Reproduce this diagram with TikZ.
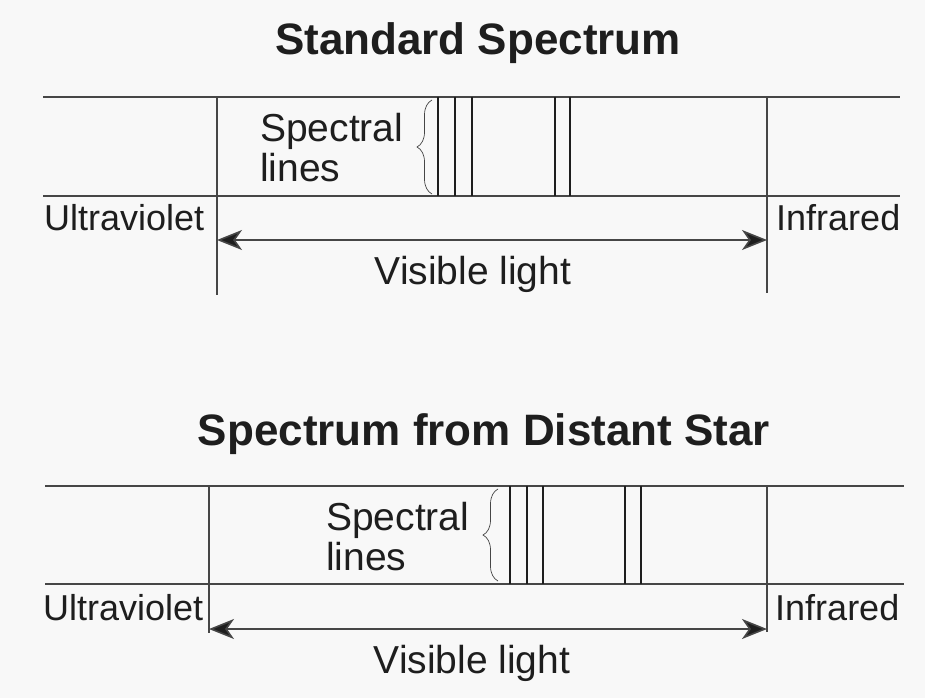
\documentclass[tikz,border=0pt]{standalone}
\usepackage{fontspec}
\setmainfont{Liberation Sans}
\usetikzlibrary{arrows.meta, decorations.pathreplacing, positioning}
\definecolor{bgcolor}{RGB}{248,248,248}
\definecolor{linecolor}{RGB}{70,70,70}
\definecolor{textcolor}{RGB}{30,30,30}

\tikzset{
  band/.style={linecolor, line width=1.3pt},
  specline/.style={textcolor, line width=2.6pt},
  bracket/.style={linecolor, line width=0.7pt, decorate, decoration={brace, amplitude=15pt, aspect=0.5}},
  widtharrow/.style={linecolor, line width=1.6pt, {Stealth[length=25pt,width=20pt,inset=7pt,fill=textcolor]}-{Stealth[length=25pt,width=20pt,inset=7pt,fill=textcolor]}},
  heading/.style={font=\fontsize{44}{48}\selectfont\bfseries, text=textcolor, inner sep=0pt, anchor=base},
  label/.style={font=\fontsize{36}{40}\selectfont, text=textcolor, inner sep=0pt},
  biglabel/.style={font=\fontsize{39}{40}\selectfont, text=textcolor, inner sep=0pt}
}

\begin{document}
\begin{tikzpicture}[x=1pt, y=-1pt, line cap=butt]
        \fill[bgcolor] (0,0) rectangle (925,698);
        \useasboundingbox (0,0) rectangle (925,698);

        % standard spectrum
        \node[heading] (title1) at (478,55) {Standard Spectrum};
        \coordinate (tl1) at (43,97);  \coordinate (tr1) at (900,97);
        \coordinate (bl1) at (43,196); \coordinate (br1) at (900,196);
        \coordinate (vt1) at (217,97); \coordinate (vb1) at (217,295);
        \coordinate (wt1) at (767,97); \coordinate (wb1) at (767,293);
        \coordinate (al1) at (217,240); \coordinate (ar1) at (767,240);
        \draw[band] (tl1) -- (tr1);
        \draw[band] (bl1) -- (br1);
        \draw[band] (vt1) -- (vb1);
        \draw[band] (wt1) -- (wb1);
        \foreach \x in {438,455,472,555,570}
            \draw[specline] (\x,97) -- (\x,196);
        \coordinate (bb1) at (432,194); \coordinate (bt1) at (432,100);
        \draw[bracket] (bb1) -- (bt1);
        \node[biglabel, anchor=north west, align=left] (spec1) at (260,113) {Spectral\\lines};
        \node[label, anchor=base west] (uv1) at (44,230) {Ultraviolet};
        \node[label, anchor=base west] (ir1) at (776,230) {Infrared};
        \draw[widtharrow] (al1) -- (ar1);
        \node[biglabel, anchor=base] (vis1) at (473,284) {Visible light};

        % spectrum from distant star
        \node[heading] (title2) at (484,445) {Spectrum from Distant Star};
        \coordinate (tl2) at (45,486);  \coordinate (tr2) at (904,486);
        \coordinate (bl2) at (45,584);  \coordinate (br2) at (904,584);
        \coordinate (vt2) at (209,486); \coordinate (vb2) at (209,633);
        \coordinate (wt2) at (767,486); \coordinate (wb2) at (767,632);
        \coordinate (al2) at (209,629); \coordinate (ar2) at (767,629);
        \draw[band] (tl2) -- (tr2);
        \draw[band] (bl2) -- (br2);
        \draw[band] (vt2) -- (vb2);
        \draw[band] (wt2) -- (wb2);
        \foreach \x in {510,527,543,625,641}
            \draw[specline] (\x,486) -- (\x,584);
        \coordinate (bb2) at (498,581); \coordinate (bt2) at (498,489);
        \draw[bracket] (bb2) -- (bt2);
        \node[biglabel, anchor=north west, align=left] (spec2) at (326,502) {Spectral\\lines};
        \node[label, anchor=base west] (uv2) at (43,620) {Ultraviolet};
        \node[label, anchor=base west] (ir2) at (775,620) {Infrared};
        \draw[widtharrow] (al2) -- (ar2);
        \node[biglabel, anchor=base] (vis2) at (472,673) {Visible light};
    \end{tikzpicture}
\end{document}
